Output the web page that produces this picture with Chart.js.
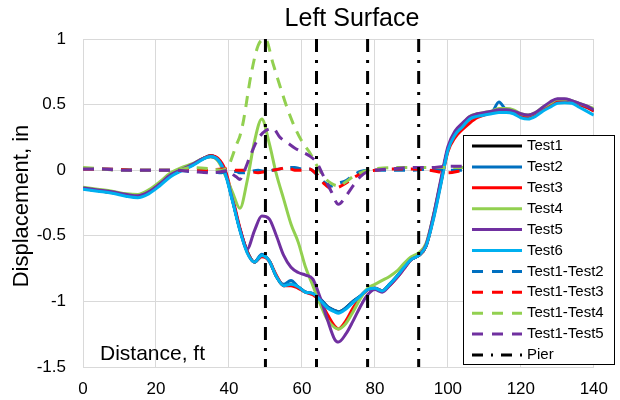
<!DOCTYPE html>
<html lang="en">
<head>
    <meta charset="UTF-8">
    <title>Left Surface</title>
    <script src="https://cdn.jsdelivr.net/npm/chart.js"></script>
    <style>
        body { margin: 0; background: #fff; }
        .chart-container { position: relative; width: 620px; height: 400px; }
    </style>
</head>
<body>
    <div class="chart-container">
        <canvas id="surfaceChart"></canvas>
    </div>
    <script>
        // Distance (ft) for the six test runs
        const distance = [0, 4, 8, 12, 15, 18, 21, 24, 27, 30, 33, 35, 37, 39, 41, 43, 45, 47, 49, 51,
            53, 55, 57, 59, 61, 63, 65, 67, 69, 70, 72, 74, 76, 78, 80, 82, 84, 86, 88, 90,
            92, 94, 96, 98, 100, 102, 104, 106, 108, 110, 112, 114, 116, 118, 120, 122, 124, 126, 128, 130,
            132, 134, 136, 138, 140];

        const test1 = [-0.14, -0.155, -0.17, -0.19, -0.2, -0.17, -0.11, -0.04, 0, 0.04, 0.09, 0.11, 0.08, -0.02, -0.23, -0.45, -0.62, -0.7, -0.65, -0.69,
            -0.81, -0.88, -0.87, -0.89, -0.93, -0.94, -0.98, -1.04, -1.07, -1.08, -1.05, -1, -0.96, -0.91, -0.9, -0.92, -0.87, -0.81, -0.74, -0.68,
            -0.65, -0.58, -0.36, -0.1, 0.16, 0.28, 0.34, 0.4, 0.42, 0.43, 0.44, 0.455, 0.46, 0.45, 0.42, 0.41, 0.43, 0.47, 0.5, 0.53,
            0.535, 0.52, 0.5, 0.48, 0.455];
        const test2 = [-0.14, -0.155, -0.17, -0.19, -0.2, -0.17, -0.11, -0.04, 0, 0.04, 0.09, 0.11, 0.08, -0.02, -0.23, -0.45, -0.62, -0.7, -0.64, -0.69,
            -0.81, -0.87, -0.84, -0.89, -0.93, -0.94, -0.98, -1.04, -1.07, -1.08, -1.05, -1, -0.96, -0.91, -0.9, -0.92, -0.87, -0.81, -0.74, -0.68,
            -0.65, -0.58, -0.36, -0.1, 0.16, 0.28, 0.34, 0.39, 0.42, 0.43, 0.44, 0.52, 0.46, 0.45, 0.42, 0.41, 0.43, 0.47, 0.5, 0.53,
            0.535, 0.52, 0.5, 0.48, 0.455];
        const test3 = [-0.14, -0.155, -0.17, -0.19, -0.2, -0.17, -0.11, -0.04, 0, 0.04, 0.09, 0.11, 0.09, 0, -0.21, -0.44, -0.62, -0.7, -0.66, -0.69,
            -0.8, -0.88, -0.88, -0.9, -0.93, -0.95, -1.0, -1.1, -1.19, -1.21, -1.15, -1.05, -0.97, -0.91, -0.9, -0.92, -0.88, -0.82, -0.75, -0.68,
            -0.65, -0.58, -0.37, -0.11, 0.14, 0.25, 0.31, 0.36, 0.4, 0.42, 0.44, 0.45, 0.46, 0.45, 0.42, 0.41, 0.43, 0.46, 0.49, 0.52,
            0.53, 0.52, 0.5, 0.48, 0.45];
        const test4 = [-0.13, -0.145, -0.16, -0.18, -0.185, -0.15, -0.09, -0.02, 0.02, 0.05, 0.09, 0.1, 0.07, -0.04, -0.17, -0.29, -0.08, 0.22, 0.39, 0.21,
            -0.03, -0.22, -0.41, -0.55, -0.74, -0.88, -1.02, -1.14, -1.2, -1.21, -1.17, -1.08, -0.98, -0.9, -0.87, -0.84, -0.81, -0.77, -0.71, -0.66,
            -0.63, -0.56, -0.35, -0.09, 0.16, 0.28, 0.35, 0.41, 0.43, 0.44, 0.45, 0.47, 0.47, 0.46, 0.43, 0.42, 0.44, 0.48, 0.51, 0.54,
            0.54, 0.53, 0.51, 0.49, 0.47];
        const test5 = [-0.135, -0.15, -0.165, -0.185, -0.195, -0.165, -0.105, -0.035, 0.005, 0.045, 0.09, 0.105, 0.08, -0.02, -0.23, -0.45, -0.6, -0.46, -0.35, -0.37,
            -0.5, -0.65, -0.74, -0.78, -0.8, -0.83, -0.97, -1.14, -1.29, -1.31, -1.25, -1.15, -1.04, -0.95, -0.91, -0.93, -0.88, -0.82, -0.75, -0.68,
            -0.65, -0.57, -0.35, -0.08, 0.18, 0.3, 0.36, 0.41, 0.43, 0.44, 0.45, 0.46, 0.46, 0.45, 0.43, 0.42, 0.44, 0.48, 0.52, 0.545,
            0.545, 0.53, 0.51, 0.49, 0.46];
        const test6 = [-0.145, -0.16, -0.175, -0.2, -0.21, -0.18, -0.12, -0.05, -0.005, 0.035, 0.085, 0.105, 0.08, -0.03, -0.24, -0.46, -0.63, -0.7, -0.65, -0.69,
            -0.81, -0.88, -0.87, -0.89, -0.93, -0.94, -0.99, -1.05, -1.08, -1.09, -1.06, -1.01, -0.96, -0.91, -0.9, -0.92, -0.87, -0.81, -0.74, -0.68,
            -0.65, -0.58, -0.38, -0.12, 0.15, 0.27, 0.33, 0.39, 0.41, 0.42, 0.43, 0.44, 0.44, 0.43, 0.4, 0.39, 0.41, 0.45, 0.48, 0.51,
            0.515, 0.51, 0.48, 0.45, 0.42];

        // Distance (ft) for the difference curves
        const diffDistance = [0, 5, 10, 15, 20, 25, 30, 35, 38, 40, 41, 42, 43, 44, 46, 48, 50, 52, 54, 56,
            58, 60, 62, 64, 66, 68, 70, 72, 74, 76, 78, 80, 85, 90, 95, 100, 105, 110, 120, 130,
            140];

        const diff12 = [0.01, 0.01, 0.005, 0, 0, 0, -0.01, -0.01, -0.02, 0, -0.01, -0.01, -0.02, -0.02, -0.01, 0, -0.01, 0, 0.01, 0.02,
            0.02, 0.01, 0.01, -0.03, -0.09, -0.12, -0.1, -0.08, -0.04, -0.01, 0, 0, 0, 0, 0.01, 0, 0, 0, 0, 0,
            0];
        const diff13 = [0.01, 0.01, 0.005, 0, 0, 0, 0, 0, 0.01, 0.01, 0.01, 0, 0, 0, -0.01, -0.02, -0.01, 0, 0.01, 0.02,
            0, 0, 0.01, -0.03, -0.1, -0.14, -0.13, -0.1, -0.06, -0.03, -0.01, 0, 0.01, 0.01, 0, -0.02, 0, 0, 0, 0,
            0];
        const diff14 = [0.02, 0.01, 0, 0, 0, 0, 0.02, 0.01, 0, 0.04, 0.11, 0.19, 0.26, 0.38, 0.72, 0.95, 1.0, 0.82, 0.64, 0.47,
            0.33, 0.22, 0.14, 0.04, -0.05, -0.1, -0.12, -0.09, -0.05, -0.02, 0, 0.01, 0.02, 0.02, 0.02, 0.02, 0.02, 0.02, 0.02, 0.02,
            0.02];
        const diff15 = [0.01, 0.01, 0, 0, 0, 0, -0.01, -0.02, -0.01, 0, -0.03, -0.05, -0.07, -0.02, 0.12, 0.24, 0.3, 0.32, 0.25, 0.21,
            0.17, 0.14, 0.11, 0.06, -0.05, -0.16, -0.26, -0.2, -0.12, -0.05, -0.01, 0, 0.01, 0.02, 0.02, 0.03, 0.03, 0.03, 0.03, 0.03,
            0.03];

        const pierDistance = [50, 64, 78, 92];

        const yMin = -1.5;
        const yMax = 1;

        function toPoints(xs, ys) {
            return xs.map((x, i) => ({ x: x, y: ys[i] }));
        }

        // each pier is a vertical line across the whole plot, broken by a null point
        const pierPoints = [];
        pierDistance.forEach(x => {
            pierPoints.push({ x: x, y: yMax }, { x: x, y: yMin }, { x: x, y: null });
        });

        const fontFamily = '"Liberation Sans", Arial, sans-serif';
        const dashed = [11, 8];
        const dashDot = [13, 8, 3, 8];

        function solid(label, ys, color) {
            return {
                label: label, data: toPoints(distance, ys), borderColor: color, backgroundColor: color,
                borderWidth: 3, cubicInterpolationMode: 'monotone', legendDash: []
            };
        }
        function diff(label, ys, color) {
            return {
                label: label, data: toPoints(diffDistance, ys), borderColor: color, backgroundColor: color,
                borderWidth: 3, borderDash: dashed, cubicInterpolationMode: 'monotone', legendDash: [11, 9]
            };
        }

        const datasets = [
            solid('Test1', test1, '#000000'),
            solid('Test2', test2, '#0070C0'),
            solid('Test3', test3, '#FF0000'),
            solid('Test4', test4, '#92D050'),
            solid('Test5', test5, '#7030A0'),
            solid('Test6', test6, '#00B0F0'),
            diff('Test1-Test2', diff12, '#0070C0'),
            diff('Test1-Test3', diff13, '#FF0000'),
            diff('Test1-Test4', diff14, '#92D050'),
            diff('Test1-Test5', diff15, '#7030A0'),
            {
                label: 'Pier', data: pierPoints, borderColor: '#000000', backgroundColor: '#000000',
                borderWidth: 3, borderDash: dashDot, spanGaps: false, legendDash: [11, 8, 2, 8]
            }
        ];
        // later series are drawn on top, like in the spreadsheet
        datasets.forEach((ds, i) => {
            ds.order = datasets.length - i;
            ds.showLine = true;
            ds.pointRadius = 0;
            ds.fill = false;
        });

        // title, axis captions and the boxed legend
        const annotations = {
            id: 'annotations',
            afterDraw(chart) {
                const ctx = chart.ctx;
                ctx.save();
                ctx.fillStyle = '#000';
                ctx.textBaseline = 'middle';
                ctx.textAlign = 'center';
                ctx.font = '25px ' + fontFamily;
                ctx.fillText('Left Surface', 352, 19);

                ctx.save();
                ctx.translate(22, 206);
                ctx.rotate(-Math.PI / 2);
                ctx.font = '22px ' + fontFamily;
                ctx.fillText('Displacement, in', 0, 0);
                ctx.restore();

                ctx.textAlign = 'left';
                ctx.textBaseline = 'alphabetic';
                ctx.font = '21px ' + fontFamily;
                ctx.fillText('Distance, ft', 100, 360);

                // legend
                ctx.fillStyle = '#fff';
                ctx.fillRect(463, 135, 152, 230);
                ctx.strokeStyle = '#000';
                ctx.lineWidth = 1;
                ctx.strokeRect(463.5, 135.5, 151, 229);
                ctx.font = '15px ' + fontFamily;
                ctx.textBaseline = 'middle';
                chart.data.datasets.forEach((ds, i) => {
                    const y = 146 + i * 20.9;
                    ctx.strokeStyle = ds.borderColor;
                    ctx.lineWidth = ds.borderWidth;
                    ctx.setLineDash(ds.legendDash);
                    ctx.beginPath();
                    ctx.moveTo(472, y);
                    ctx.lineTo(522, y);
                    ctx.stroke();
                    ctx.setLineDash([]);
                    ctx.fillStyle = '#000';
                    ctx.fillText(ds.label, 527, y);
                });
                ctx.restore();
            }
        };

        new Chart(document.getElementById('surfaceChart'), {
            type: 'scatter',
            data: { datasets: datasets },
            options: {
                responsive: true,
                maintainAspectRatio: false,
                animation: false,
                layout: { padding: { top: 39, right: 24, left: 0, bottom: 0 } },
                plugins: {
                    legend: { display: false },
                    tooltip: { enabled: false }
                },
                scales: {
                    x: {
                        type: 'linear',
                        min: 0,
                        max: 140,
                        ticks: { stepSize: 20, padding: 12, color: '#000', font: { family: fontFamily, size: 17 } },
                        grid: { color: '#d9d9d9', drawTicks: false },
                        border: { color: '#d9d9d9' },
                        afterFit: scale => { scale.height = 33; }
                    },
                    y: {
                        min: yMin,
                        max: yMax,
                        ticks: {
                            stepSize: 0.5, padding: 17, color: '#000', font: { family: fontFamily, size: 17 },
                            callback: value => String(value)
                        },
                        grid: { color: '#d9d9d9', drawTicks: false },
                        border: { color: '#d9d9d9' },
                        afterFit: scale => { scale.width = 83; }
                    }
                }
            },
            plugins: [annotations]
        });
    </script>
</body>
</html>
